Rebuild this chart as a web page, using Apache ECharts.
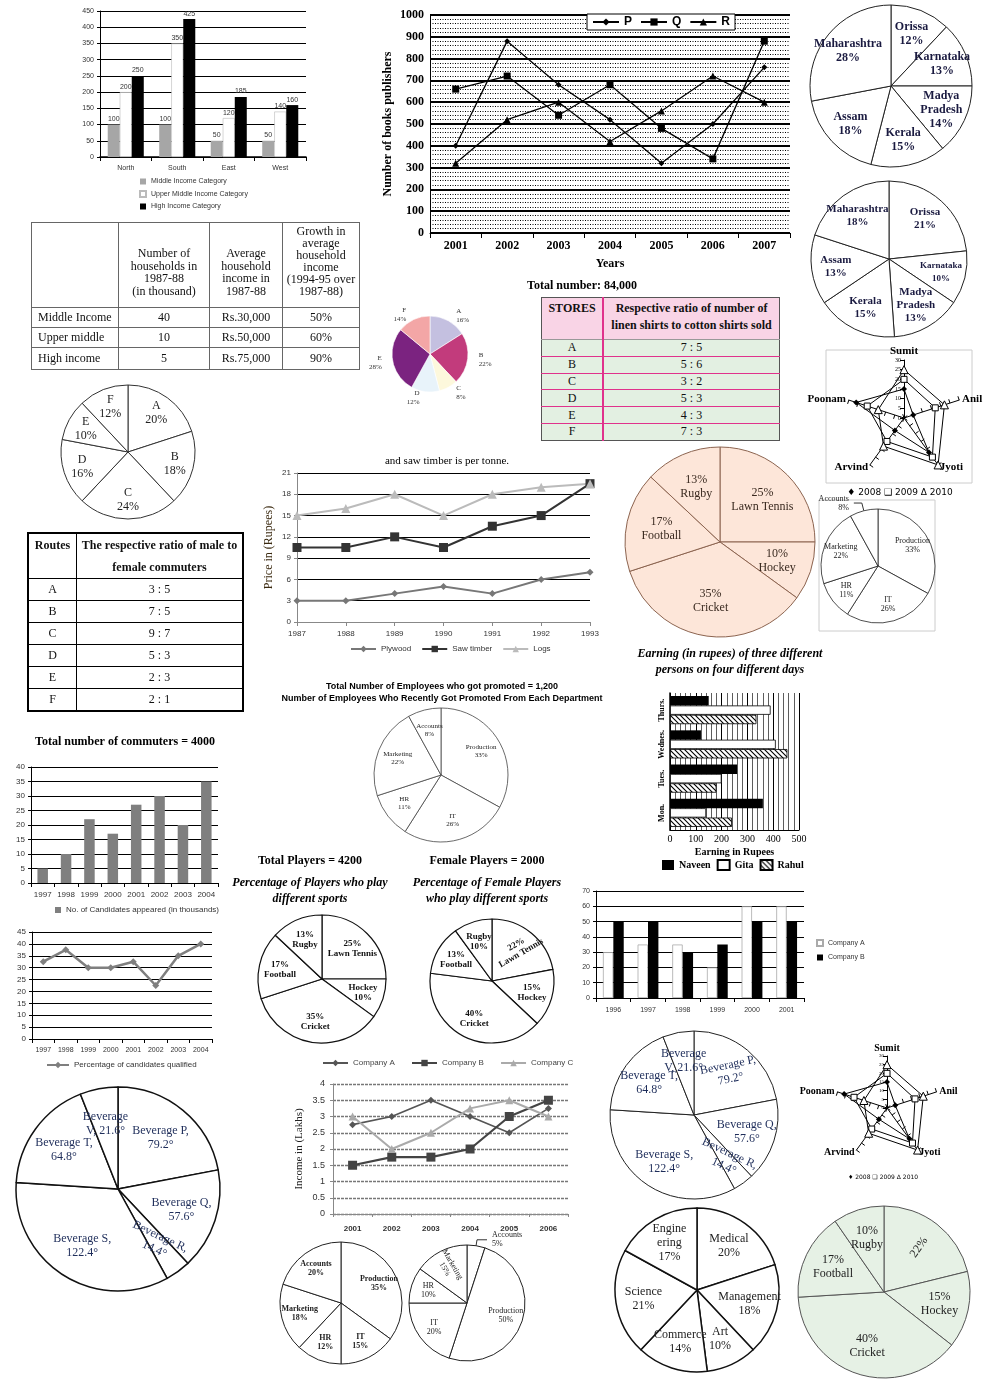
<!DOCTYPE html>
<html><head><meta charset="utf-8">
<script src="https://cdn.jsdelivr.net/npm/echarts@6/dist/echarts.min.js"></script>
<style>
html,body{margin:0;padding:0;background:#fff;}
#wrap{position:relative;width:984px;height:1379px;overflow:hidden;background:#fff;}
#chart{position:absolute;left:0;top:0;width:984px;height:1379px;}
table.t{position:absolute;border-collapse:collapse;table-layout:fixed;font-family:"Liberation Serif","DejaVu Serif",serif;font-size:12px;color:#111;}
table.t td{padding:0;text-align:center;}
</style></head><body><div id="wrap"><div id="chart"></div></div>
<script>
// ---------------- DATA ----------------
const regions = ['North','South','East','West'];
const middleIncome = [100,100,50,50];
const upperMiddleIncome = [200,350,120,140];
const highIncome = [250,425,185,160];

const pubYears = ['2001','2002','2003','2004','2005','2006','2007'];
const pubP = [400,880,680,520,320,500,760];
const pubQ = [660,720,540,680,480,340,880];
const pubR = [320,520,600,420,560,720,600];

const statesA = ['Orissa','Karnataka','Madya\nPradesh','Kerala','Assam','Maharashtra'];
const stateShareA = [12,13,14,15,18,28];
const statesB = ['Orissa','Karnataka','Madya\nPradesh','Kerala','Assam','Maharashtra'];
const stateShareB = [21,10,13,15,13,18];

const stores = ['A','B','C','D','E','F'];
const storeShare = [16,22,8,12,28,14];
const storeRatio = ['7 : 5','5 : 6','3 : 2','5 : 3','4 : 3','7 : 3'];

const householdRows = ['Middle Income','Upper middle','High income'];
const householdCount = ['40','10','5'];
const householdIncome = ['Rs.30,000','Rs.50,000','Rs.75,000'];
const householdGrowth = ['50%','60%','90%'];

const segNames = ['A','B','C','D','E','F'];
const segShare = [20,18,24,16,10,12];

const routes = ['A','B','C','D','E','F'];
const routeRatio = ['3 : 5','7 : 5','9 : 7','5 : 3','2 : 3','2 : 1'];

const radarNames = ['Sumit','Anil','Jyoti','Arvind','Poonam'];
const radar2008 = [15,5,22,8,26];
const radar2009 = [20,17,25,15,20];
const radar2010 = [25,22,30,18,14];

const sports = ['Lawn Tennis','Hockey','Cricket','Football','Rugby'];
const sportShareAll = [25,10,35,17,13];
const sportShareFemale = [22,15,40,13,10];
const sportShareGreen = [22,15,40,17,10];

const deptsA = ['Production','IT','HR','Marketing','Accounts'];
const deptShareA = [33,26,11,22,8];
const deptsB = ['Production','IT','HR','Marketing','Accounts'];
const deptShareB = [35,15,12,18,20];
const deptsC = ['Accounts','Production','IT','HR','Marketing'];
const deptShareC = [5,50,20,10,15];

const days = ['Mon.','Tues.','Wednes.','Thurs.'];
const naveen = [360,260,120,150];
const gita = [140,200,410,390];
const rahul = [240,180,455,335];

const plyYears = ['1987','1988','1989','1990','1991','1992','1993'];
const plywood = [3,3,4,5,4,6,7];
const sawTimber = [10.5,10.5,12,10.5,13.5,15,19.5];
const logs = [15,16,18,15,18,19,19.5];

const candYears = ['1997','1998','1999','2000','2001','2002','2003','2004'];
const candidates = [5,10,22,17,27,30,20,35];
const qualifiedPct = [32.5,37.5,30,30,32.5,22.5,35,40];

const compYears = ['1996','1997','1998','1999','2000','2001'];
const companyA = [30,35,35,20,60,60];
const companyB = [50,50,30,35,50,50];

const incYears = ['2001','2002','2003','2004','2005','2006'];
const incomeA = [2.75,3,3.5,3,2.5,3.25];
const incomeB = [1.5,1.75,1.75,2,3,3.5];
const incomeC = [3,2,2.5,3.25,3.5,3];

const beverages = ['Beverage P','Beverage Q','Beverage R','Beverage S','Beverage T','Beverage V'];
const beverageDeg = [79.2,57.6,14.4,122.4,64.8,21.6];

const streams = ['Medical','Management','Art','Commerce','Science','Engineering'];
const streamShare = [20,18,10,14,21,17];

// ---------------- HELPERS ----------------
const SERIF = '"Liberation Serif","DejaVu Serif",serif';
const SANS = '"Liberation Sans","DejaVu Sans",sans-serif';
const grid=[], xAxis=[], yAxis=[], series=[], legend=[], radar=[], graphic=[];

function addGrid(g){ grid.push(Object.assign({outerBoundsMode:'none', containLabel:false}, g)); return grid.length-1; }
function txt(text, x, y, font, extra){ graphic.push({type:'text', x:x, y:y, silent:true, style:Object.assign({text:text, font:font, fill:'#000', textAlign:'center', textVerticalAlign:'middle'}, extra||{})}); }
function frame(x,y,w,h,color){ graphic.push({type:'rect', silent:true, shape:{x:x,y:y,width:w,height:h}, style:{fill:'none', stroke:color||'#bbb', lineWidth:1}}); }

const fNV = p => p.name + '\n' + p.value + '%';
const fVN = p => p.value + '%\n' + p.name;
const plain = v => String(v);

function addPie(c){
  const base = c.names.map((n,i)=>({name:n, value:c.values[i], itemStyle:{color: Array.isArray(c.fill)?c.fill[i]:c.fill}}));
  series.push({type:'pie', center:c.center, radius:c.r, startAngle:90, clockwise:true, silent:true, animation:false,
    data:base, itemStyle:{borderColor:c.border||'#222', borderWidth:c.bw==null?1:c.bw},
    label: c.outside ? {show:true, position:'outside', formatter:c.fmt, fontFamily:c.family||SERIF, fontSize:c.size, color:c.color||'#222', lineHeight:c.lh||c.size+1} : {show:false},
    labelLine:{show:false, length:c.len||6, length2:0}, labelLayout:{hideOverlap:false}, emphasis:{disabled:true}, avoidLabelOverlap:false});
  if (c.outside) return;
  const lab = c.names.map((n,i)=>{ const d={name:n, value:c.values[i]}; const ov=(c.over||{})[i]; if(ov){ if(ov.label) d.label=ov.label; if(ov.labelLine) d.labelLine=ov.labelLine; } return d; });
  series.push({type:'pie', center:c.center, radius:[c.r*c.inner, c.r], startAngle:90, clockwise:true, silent:true, animation:false, data:lab,
    itemStyle:{color:'rgba(0,0,0,0)', borderWidth:0},
    label:{show:true, position:'inside', overflow:'none', formatter:c.fmt, fontFamily:c.family||SERIF, fontSize:c.size, fontWeight:c.weight||'normal', color:c.color||'#222', lineHeight:c.lh||Math.round(c.size*1.15)},
    labelLine:{show:false}, labelLayout:{hideOverlap:false, moveOverlap:null}, emphasis:{disabled:true}, avoidLabelOverlap:false});
}

// hatch pattern
const hatch = document.createElement('canvas');
hatch.width = 5; hatch.height = 5;
(function(){ const h = hatch.getContext('2d'); h.fillStyle='#fff'; h.fillRect(0,0,5,5); h.strokeStyle='#000'; h.lineWidth=1.1;
  h.beginPath(); h.moveTo(0,0); h.lineTo(5,5); h.moveTo(-1,4); h.lineTo(1,6); h.moveTo(4,-1); h.lineTo(6,1); h.stroke(); })();

function axisIdx(){ return {xAxisIndex:xAxis.length-1, yAxisIndex:yAxis.length-1}; }

// ---------------- 1. Income category bars ----------------
let g = addGrid({left:100, top:11, width:206, height:146});
xAxis.push({type:'category', gridIndex:g, data:regions, axisLine:{lineStyle:{color:'#000', width:1.5}}, axisTick:{show:true, length:4, lineStyle:{color:'#000'}}, axisLabel:{interval:0, fontSize:7, color:'#333', fontFamily:SANS, margin:8}});
yAxis.push({type:'value', gridIndex:g, min:0, max:450, interval:50, axisLine:{show:true, lineStyle:{color:'#000'}}, axisTick:{show:true, length:3, lineStyle:{color:'#000'}}, axisLabel:{fontSize:7, color:'#333', fontFamily:SANS, margin:6, formatter:plain}, splitLine:{lineStyle:{color:'#000', width:1.2}}});
(function(){
  const lb = {show:true, position:'top', fontSize:7, color:'#333', fontFamily:SANS, distance:2};
  series.push(Object.assign({type:'bar', name:'Middle Income Category', data:middleIncome, itemStyle:{color:'#a6a6a6'}, barGap:'0%', barCategoryGap:'30%', label:lb, animation:false}, axisIdx()));
  series.push(Object.assign({type:'bar', name:'Upper Middle Income Category', data:upperMiddleIncome, itemStyle:{color:'#fff', borderColor:'#bbb', borderWidth:0.6}, barGap:'0%', barCategoryGap:'30%', label:lb, animation:false}, axisIdx()));
  series.push(Object.assign({type:'bar', name:'High Income Category', data:highIncome, itemStyle:{color:'#000'}, barGap:'0%', barCategoryGap:'30%', label:lb, animation:false}, axisIdx()));
})();
legend.push({data:['Middle Income Category','Upper Middle Income Category','High Income Category'], icon:'rect', orient:'vertical', left:139, top:178, itemWidth:6, itemHeight:6, itemGap:5, padding:0, selectedMode:false, textStyle:{fontSize:7, color:'#333', fontFamily:SANS}});

// ---------------- 2. Publishers lines ----------------
g = addGrid({left:430, top:15, width:360, height:218});
xAxis.push({type:'category', gridIndex:g, data:pubYears, axisLine:{lineStyle:{color:'#000'}}, axisTick:{show:true, length:5, lineStyle:{color:'#000'}}, axisLabel:{interval:0, fontSize:12, fontWeight:'bold', color:'#000', fontFamily:SERIF, margin:7}, name:'Years', nameLocation:'middle', nameGap:25, nameTextStyle:{fontSize:12, fontWeight:'bold', color:'#000', fontFamily:SERIF}});
yAxis.push({type:'value', gridIndex:g, min:0, max:1000, interval:100, axisLine:{show:true, lineStyle:{color:'#000'}}, axisTick:{show:false}, axisLabel:{fontSize:12, fontWeight:'bold', color:'#000', fontFamily:SERIF, margin:6, formatter:plain}, splitLine:{lineStyle:{color:'#000', width:2}}, minorTick:{show:false, splitNumber:5}, minorSplitLine:{show:true, lineStyle:{color:'#000', width:1, type:[1,1.5]}}, name:'Number of books publishers', nameLocation:'middle', nameGap:36, nameRotate:90, nameTextStyle:{fontSize:12, fontWeight:'bold', color:'#000', fontFamily:SERIF}});
series.push(Object.assign({type:'line', name:'P', data:pubP, symbol:'diamond', symbolSize:6, lineStyle:{color:'#000', width:1.3}, itemStyle:{color:'#000'}, animation:false}, axisIdx()));
series.push(Object.assign({type:'line', name:'Q', data:pubQ, symbol:'rect', symbolSize:7, lineStyle:{color:'#000', width:1.3}, itemStyle:{color:'#000'}, animation:false}, axisIdx()));
series.push(Object.assign({type:'line', name:'R', data:pubR, symbol:'triangle', symbolSize:7, lineStyle:{color:'#000', width:1.3}, itemStyle:{color:'#000'}, animation:false}, axisIdx()));
legend.push({data:['P','Q','R'], left:587, top:14, itemWidth:26, itemHeight:9, itemGap:8, padding:[2,5], selectedMode:false, backgroundColor:'#fff', borderColor:'#000', borderWidth:1, textStyle:{fontSize:12, fontWeight:'bold', color:'#000', fontFamily:SANS}});
txt('Total number: 84,000', 582, 286, 'bold 12px ' + SERIF);

// ---------------- 3. Plywood lines ----------------
g = addGrid({left:297, top:473, width:293, height:149});
xAxis.push({type:'category', gridIndex:g, data:plyYears, boundaryGap:false, axisLine:{lineStyle:{color:'#888'}}, axisTick:{show:true, length:4, lineStyle:{color:'#888'}}, axisLabel:{interval:0, fontSize:8, color:'#333', fontFamily:SANS, margin:8}});
yAxis.push({type:'value', gridIndex:g, min:0, max:21, interval:3, axisLine:{show:true, lineStyle:{color:'#888'}}, axisTick:{show:true, length:3, lineStyle:{color:'#888'}}, axisLabel:{fontSize:8, color:'#333', fontFamily:SANS, margin:6}, splitLine:{lineStyle:{color:'#000', width:1.2}}, name:'Price in (Rupees)', nameLocation:'middle', nameGap:22, nameTextStyle:{fontSize:12, color:'#3b2a10', fontFamily:SERIF}});
series.push(Object.assign({type:'line', name:'Plywood', data:plywood, symbol:'diamond', symbolSize:7, lineStyle:{color:'#777', width:2}, itemStyle:{color:'#777'}, animation:false}, axisIdx()));
series.push(Object.assign({type:'line', name:'Saw timber', data:sawTimber, symbol:'rect', symbolSize:9, lineStyle:{color:'#333', width:2}, itemStyle:{color:'#333'}, animation:false}, axisIdx()));
series.push(Object.assign({type:'line', name:'Logs', data:logs, symbol:'triangle', symbolSize:9, lineStyle:{color:'#bbb', width:2}, itemStyle:{color:'#bbb'}, animation:false}, axisIdx()));
legend.push({data:['Plywood','Saw timber','Logs'], left:350, top:645, itemWidth:25, itemHeight:8, itemGap:10, padding:0, selectedMode:false, textStyle:{fontSize:8, color:'#333', fontFamily:SANS}});
txt('and saw timber is per tonne.', 447, 461, '11px ' + SERIF);

// ---------------- 4. Earnings horizontal bars ----------------
g = addGrid({left:670, top:693, width:129, height:137});
xAxis.push({type:'value', gridIndex:g, min:0, max:500, interval:100, axisLine:{show:true, lineStyle:{color:'#000'}}, axisTick:{show:false}, axisLabel:{fontSize:10, color:'#000', fontFamily:SERIF, margin:4}, splitLine:{lineStyle:{color:'#000', width:1}}, minorTick:{show:false, splitNumber:5}, minorSplitLine:{show:true, lineStyle:{color:'#333', width:0.8}}, name:'Earning in Rupees', nameLocation:'middle', nameGap:17, nameTextStyle:{fontSize:10, fontWeight:'bold', color:'#000', fontFamily:SERIF}});
yAxis.push({type:'category', gridIndex:g, data:days, axisLine:{lineStyle:{color:'#000', width:1.5}}, axisTick:{show:false}, axisLabel:{interval:0, rotate:90, fontSize:8, fontWeight:'bold', color:'#000', fontFamily:SERIF, margin:4}});
series.push(Object.assign({type:'bar', name:'Naveen', data:naveen, itemStyle:{color:'#000'}, barGap:'0%', barCategoryGap:'18%', animation:false}, axisIdx()));
series.push(Object.assign({type:'bar', name:'Gita', data:gita, itemStyle:{color:'#fff', borderColor:'#000', borderWidth:0.8}, barGap:'0%', barCategoryGap:'18%', animation:false}, axisIdx()));
series.push(Object.assign({type:'bar', name:'Rahul', data:rahul, itemStyle:{color:{image:hatch, repeat:'repeat'}, borderColor:'#000', borderWidth:0.8}, barGap:'0%', barCategoryGap:'18%', animation:false}, axisIdx()));
legend.push({data:['Naveen','Gita','Rahul'], icon:'rect', left:662, top:859, itemWidth:12, itemHeight:10, itemGap:6, padding:0, selectedMode:false, textStyle:{fontSize:10, fontWeight:'bold', color:'#000', fontFamily:SERIF}});
txt('Earning (in rupees) of three different', 730, 654, 'italic bold 12px ' + SERIF);
txt('persons on four different days', 730, 670, 'italic bold 12px ' + SERIF);

// ---------------- 5. Candidates bars ----------------
g = addGrid({left:31, top:767, width:187, height:116});
xAxis.push({type:'category', gridIndex:g, data:candYears, axisLine:{lineStyle:{color:'#000'}}, axisTick:{show:true, length:4, lineStyle:{color:'#000'}}, axisLabel:{interval:0, fontSize:8, color:'#333', fontFamily:SANS, margin:8}});
yAxis.push({type:'value', gridIndex:g, min:0, max:40, interval:5, axisLine:{show:true, lineStyle:{color:'#000'}}, axisTick:{show:true, length:3, lineStyle:{color:'#000'}}, axisLabel:{fontSize:8, color:'#333', fontFamily:SANS, margin:6}, splitLine:{lineStyle:{color:'#000', width:1}}});
series.push(Object.assign({type:'bar', name:'No. of Candidates appeared (in thousands)', data:candidates, barWidth:'45%', itemStyle:{color:'#7f7f7f'}, animation:false}, axisIdx()));
legend.push({data:['No. of Candidates appeared (in thousands)'], icon:'rect', left:55, top:906, itemWidth:6, itemHeight:6, padding:0, selectedMode:false, textStyle:{fontSize:8, color:'#333', fontFamily:SANS}});
txt('Total number of commuters = 4000', 125, 742, 'bold 12px ' + SERIF);

// ---------------- 6. Qualified line ----------------
g = addGrid({left:32, top:932, width:180, height:107});
xAxis.push({type:'category', gridIndex:g, data:candYears, axisLine:{lineStyle:{color:'#000'}}, axisTick:{show:true, length:4, lineStyle:{color:'#000'}}, axisLabel:{interval:0, fontSize:7, color:'#333', fontFamily:SANS, margin:8}});
yAxis.push({type:'value', gridIndex:g, min:0, max:45, interval:5, axisLine:{show:true, lineStyle:{color:'#000'}}, axisTick:{show:true, length:3, lineStyle:{color:'#000'}}, axisLabel:{fontSize:8, color:'#333', fontFamily:SANS, margin:6}, splitLine:{lineStyle:{color:'#000', width:1}}});
series.push(Object.assign({type:'line', name:'Percentage of candidates qualified', data:qualifiedPct, symbol:'diamond', symbolSize:7, lineStyle:{color:'#7f7f7f', width:2.5}, itemStyle:{color:'#7f7f7f'}, animation:false}, axisIdx()));
legend.push({data:['Percentage of candidates qualified'], left:46, top:1061, itemWidth:22, itemHeight:8, padding:0, selectedMode:false, textStyle:{fontSize:8, color:'#333', fontFamily:SANS}});

// ---------------- 7. Company A/B bars ----------------
g = addGrid({left:596, top:891, width:208, height:107});
xAxis.push({type:'category', gridIndex:g, data:compYears, axisLine:{lineStyle:{color:'#000'}}, axisTick:{show:true, length:4, lineStyle:{color:'#000'}}, axisLabel:{interval:0, fontSize:7, color:'#333', fontFamily:SANS, margin:9}});
yAxis.push({type:'value', gridIndex:g, min:0, max:70, interval:10, axisLine:{show:true, lineStyle:{color:'#000'}}, axisTick:{show:true, length:3, lineStyle:{color:'#000'}}, axisLabel:{fontSize:7, color:'#333', fontFamily:SANS, margin:6}, splitLine:{lineStyle:{color:'#000', width:1}}});
series.push(Object.assign({type:'bar', name:'Company A', data:companyA, itemStyle:{color:'#fff', borderColor:'#aaa', borderWidth:0.8}, barGap:'0%', barCategoryGap:'40%', animation:false}, axisIdx()));
series.push(Object.assign({type:'bar', name:'Company B', data:companyB, itemStyle:{color:'#000'}, barGap:'0%', barCategoryGap:'40%', animation:false}, axisIdx()));
legend.push({data:['Company A','Company B'], icon:'rect', orient:'vertical', left:816, top:939, itemWidth:6, itemHeight:6, itemGap:7, padding:0, selectedMode:false, textStyle:{fontSize:7, color:'#333', fontFamily:SANS}});

// ---------------- 8. Company income lines ----------------
g = addGrid({left:333, top:1084, width:235, height:130});
xAxis.push({type:'category', gridIndex:g, data:incYears, axisLine:{lineStyle:{color:'#888'}}, axisTick:{show:true, length:3, lineStyle:{color:'#888'}}, axisLabel:{interval:0, fontSize:8, fontWeight:'bold', color:'#333', fontFamily:SANS, margin:11}});
yAxis.push({type:'value', gridIndex:g, min:0, max:4, interval:0.5, axisLine:{show:true, lineStyle:{color:'#888'}}, axisTick:{show:true, length:3, lineStyle:{color:'#888'}}, axisLabel:{fontSize:9, color:'#333', fontFamily:SANS, margin:8}, splitLine:{lineStyle:{color:'#777', width:1.3, type:[3,1]}}, name:'Income in (Lakhs)', nameLocation:'middle', nameGap:28, nameTextStyle:{fontSize:11, color:'#222', fontFamily:SERIF}});
series.push(Object.assign({type:'line', name:'Company A ', data:incomeA, symbol:'diamond', symbolSize:7, lineStyle:{color:'#555', width:1.6}, itemStyle:{color:'#555'}, animation:false}, axisIdx()));
series.push(Object.assign({type:'line', name:'Company B ', data:incomeB, symbol:'rect', symbolSize:9, lineStyle:{color:'#444', width:2.2}, itemStyle:{color:'#444'}, animation:false}, axisIdx()));
series.push(Object.assign({type:'line', name:'Company C ', data:incomeC, symbol:'triangle', symbolSize:8, lineStyle:{color:'#aaa', width:2}, itemStyle:{color:'#aaa'}, animation:false}, axisIdx()));
legend.push({data:['Company A ','Company B ','Company C '], left:322, top:1059, itemWidth:25, itemHeight:8, itemGap:14, padding:0, selectedMode:false, textStyle:{fontSize:8, color:'#444', fontFamily:SANS}});

// ---------------- 9. Radars ----------------
const radarOrder = [0,4,3,2,1]; // clockwise arrangement
function addRadar(cx, cy, r, nameSize, tickSize){
  radar.push({center:[cx,cy], radius:r, startAngle:90, splitNumber:6, shape:'polygon',
    indicator: radarOrder.map(i=>({name:radarNames[i], min:0, max:30})),
    axisName:{color:'#000', fontFamily:SERIF, fontSize:nameSize, fontWeight:'bold'}, nameGap:3,
    splitLine:{show:false}, splitArea:{show:false}, axisLine:{lineStyle:{color:'#000', width:1}},
    axisTick:{show:true, length:4, lineStyle:{color:'#000'}}, axisLabel:{show:false}});
  const ri = radar.length-1;
  const pick = arr => radarOrder.map(i=>arr[i]);
  series.push({type:'radar', radarIndex:ri, silent:true, animation:false, symbolSize:6, lineStyle:{color:'#000', width:1},
    data:[
      {name:'2008', value:pick(radar2008), symbol:'diamond', itemStyle:{color:'#000'}},
      {name:'2009', value:pick(radar2009), symbol:'rect', itemStyle:{color:'#fff', borderColor:'#000', borderWidth:1}},
      {name:'2010', value:pick(radar2010), symbol:'triangle', symbolSize:8, itemStyle:{color:'#fff', borderColor:'#000', borderWidth:1}}
    ]});
  const gg = addGrid({left:cx, top:cy-r, width:1, height:r});
  xAxis.push({type:'value', gridIndex:gg, show:false});
  yAxis.push({type:'value', gridIndex:gg, min:0, max:30, interval:5, axisLine:{show:false}, axisTick:{show:false}, splitLine:{show:false}, axisLabel:{fontSize:tickSize, color:'#000', fontFamily:SERIF, margin:3}});
}
addRadar(904, 418, 58, 11, 6);
frame(826, 350, 146, 133, '#ccc');
txt('\u2666 2008 \u2751 2009 \u0394 2010', 900, 493, '9px "DejaVu Sans"');
addRadar(887, 1108, 52, 10, 5);
txt('\u2666 2008 \u2751 2009 \u0394 2010', 883, 1177, '6px "DejaVu Sans"');

// ---------------- 10. Pies ----------------
addPie({center:[891,86], r:81, names:statesA, values:stateShareA, fill:'#fff', border:'#222', inner:0.3, fmt:fNV, size:12, weight:'bold', color:'#1a1a40'});
addPie({center:[889,259], r:78, names:statesB, values:stateShareB, fill:'#fff', border:'#222', inner:0.3, fmt:fNV, size:11, weight:'bold', color:'#1a1a40', over:{1:{label:{fontSize:9}}}});
addPie({center:[430,354], r:38, names:stores, values:storeShare, fill:['#c4c0e0','#c23b7c','#fdf8dc','#e8f3fa','#7b2380','#f3a6a6'], border:'#fff', bw:0.6, outside:true, len:6, fmt:fNV, size:7, color:'#333', lh:9});
addPie({center:[720,542], r:95, names:sports, values:sportShareAll, fill:'#fde6d9', border:'#8c6450', inner:0.2, fmt:fVN, size:12, color:'#3a2a20'});
addPie({center:[878,566], r:57, names:deptsA, values:deptShareA, fill:'#fff', border:'#222', bw:0.8, inner:0.3, fmt:fNV, size:8, color:'#222',
  over:{4:{label:{position:'outside'}, labelLine:{show:true, length:8, length2:8, lineStyle:{color:'#333'}}}}});
addPie({center:[128,452], r:67, names:segNames, values:segShare, fill:'#fff', border:'#333', inner:0.35, fmt:fNV, size:12, color:'#222'});
addPie({center:[441,775], r:67, names:deptsA, values:deptShareA, fill:'#fff', border:'#444', bw:0.8, inner:0.3, fmt:fNV, size:7, color:'#222'});
addPie({center:[322,979], r:64, names:sports, values:sportShareAll, fill:'#fff', border:'#111', bw:1.2, inner:0.25, fmt:p => p.name==='Hockey' ? fNV(p) : fVN(p), size:9, weight:'bold', color:'#111'});
addPie({center:[492,981], r:62, names:sports, values:sportShareFemale, fill:'#fff', border:'#111', bw:1.2, inner:0.25, fmt:p => p.name==='Rugby' ? fNV(p) : fVN(p), size:9, weight:'bold', color:'#111', over:{0:{label:{rotate:30}}}});
const bevFmt = p => p.name==='Beverage V' ? 'Beverage\nV, ' + p.value + '\u00b0' : p.name + ',\n' + p.value + '\u00b0';
addPie({center:[694,1115], r:84, names:beverages, values:beverageDeg, fill:'#fff', border:'#222', inner:0.25, fmt:bevFmt, size:12, color:'#1e2d5a', over:{0:{label:{rotate:12}}, 2:{label:{rotate:-25}}}});
addPie({center:[118,1189], r:102, names:beverages, values:beverageDeg, fill:'#fff', border:'#111', bw:1.5, inner:0.25, fmt:bevFmt, size:12, color:'#1e2d5a', over:{2:{label:{rotate:-25}}}});
addPie({center:[341,1303], r:61, names:deptsB, values:deptShareB, fill:'#fff', border:'#222', inner:0.3, fmt:fNV, size:8, weight:'bold', color:'#222'});
addPie({center:[467,1303], r:58, names:deptsC, values:deptShareC, fill:'#fff', border:'#222', inner:0.3, fmt:fNV, size:8, color:'#222',
  over:{0:{label:{position:'outside'}, labelLine:{show:true, length:6, length2:10, lineStyle:{color:'#333'}}}, 4:{label:{rotate:-60}}}});
addPie({center:[697,1290], r:82, names:streams, values:streamShare, fill:'#fff', border:'#111', bw:1.5, inner:0.25, fmt:p => p.name==='Engineering' ? 'Engine\nering\n' + p.value + '%' : fNV(p), size:12, color:'#222'});
addPie({center:[884,1292], r:86, names:sports, values:sportShareGreen, fill:'#e6f1e5', border:'#555', inner:0.25, fmt:p => p.name==='Lawn Tennis' ? p.value + '%' : fVN(p), size:12, color:'#222', over:{0:{label:{rotate:55}}}});

frame(819, 500, 116, 131, '#ccc');
txt('Total Number of Employees who got promoted = 1,200', 442, 687, 'bold 9px ' + SANS);
txt('Number of Employees Who Recently Got Promoted From Each Department', 442, 699, 'bold 9px ' + SANS);
txt('Total Players = 4200', 310, 861, 'bold 12px ' + SERIF);
txt('Female Players = 2000', 487, 861, 'bold 12px ' + SERIF);
txt('Percentage of Players who play', 310, 883, 'italic bold 12px ' + SERIF);
txt('different sports', 310, 899, 'italic bold 12px ' + SERIF);
txt('Percentage of Female Players', 487, 883, 'italic bold 12px ' + SERIF);
txt('who play different sports', 487, 899, 'italic bold 12px ' + SERIF);

// ---------------- RENDER ----------------
const chart = echarts.init(document.getElementById('chart'), null, {renderer:'canvas', width:984, height:1379});
chart.setOption({backgroundColor:'#fff', animation:false, textStyle:{fontFamily:SANS}, grid, xAxis, yAxis, series, legend, radar, graphic});

// ---------------- TABLES ----------------
const wrap = document.getElementById('wrap');
function mk(css, html){ const t=document.createElement('table'); t.className='t'; t.style.cssText=css; t.innerHTML=html; wrap.appendChild(t); }

(function(){
  const b='border:1px solid #666;';
  let h = '<tr style="height:85px">'
    + '<td style="width:86px;'+b+'"></td>'
    + '<td style="width:90px;'+b+'vertical-align:bottom;padding-bottom:10px;line-height:12.5px">Number of<br>households in<br>1987-88<br>(in thousand)</td>'
    + '<td style="width:72px;'+b+'vertical-align:bottom;padding-bottom:10px;line-height:12.5px">Average<br>household<br>income in<br>1987-88</td>'
    + '<td style="'+b+'vertical-align:bottom;padding-bottom:10px;line-height:12px">Growth in<br>average<br>household<br>income<br>(1994-95 over<br>1987-88)</td></tr>';
  householdRows.forEach((r,i)=>{
    h += '<tr style="height:'+(i===2?22:20)+'px"><td style="'+b+'text-align:left;padding-left:6px">'+r+'</td><td style="'+b+'">'+householdCount[i]+'</td><td style="'+b+'">'+householdIncome[i]+'</td><td style="'+b+'">'+householdGrowth[i]+'</td></tr>';
  });
  mk('left:31px;top:222px;width:329px;border:1.5px solid #555;', h);
})();

(function(){
  const b='border:1px solid #000;';
  let h = '<tr style="height:43px"><td style="width:47px;'+b+'vertical-align:top;font-weight:bold;padding-top:4px">Routes</td>'
    + '<td style="'+b+'vertical-align:top;font-weight:bold;line-height:22px">The respective ratio of male to<br>female commuters</td></tr>';
  routes.forEach((r,i)=>{ h += '<tr style="height:22px"><td style="'+b+'">'+r+'</td><td style="'+b+'">'+routeRatio[i]+'</td></tr>'; });
  mk('left:27px;top:532px;width:217px;border:2px solid #000;', h);
})();

(function(){
  const pink='#e0328c';
  let h = '<tr style="height:42px;background:#f9d4e6"><td style="width:60px;vertical-align:top;font-weight:bold;padding-top:3px;border-right:2px solid '+pink+';border-bottom:1px solid #999">STORES</td>'
    + '<td style="vertical-align:top;font-weight:bold;line-height:17px;padding-top:2px;border-bottom:1px solid #999">Respective ratio of number of<br>linen shirts to cotton shirts sold</td></tr>';
  stores.forEach((s,i)=>{ const bb = i<stores.length-1 ? 'border-bottom:1px solid '+pink+';' : '';
    h += '<tr style="height:16.8px;background:#e3f0e2"><td style="border-right:2px solid '+pink+';'+bb+'">'+s+'</td><td style="'+bb+'">'+storeRatio[i]+'</td></tr>'; });
  mk('left:541px;top:297px;width:239px;border:1.5px solid #555;', h);
})();
</script>
</body></html>
